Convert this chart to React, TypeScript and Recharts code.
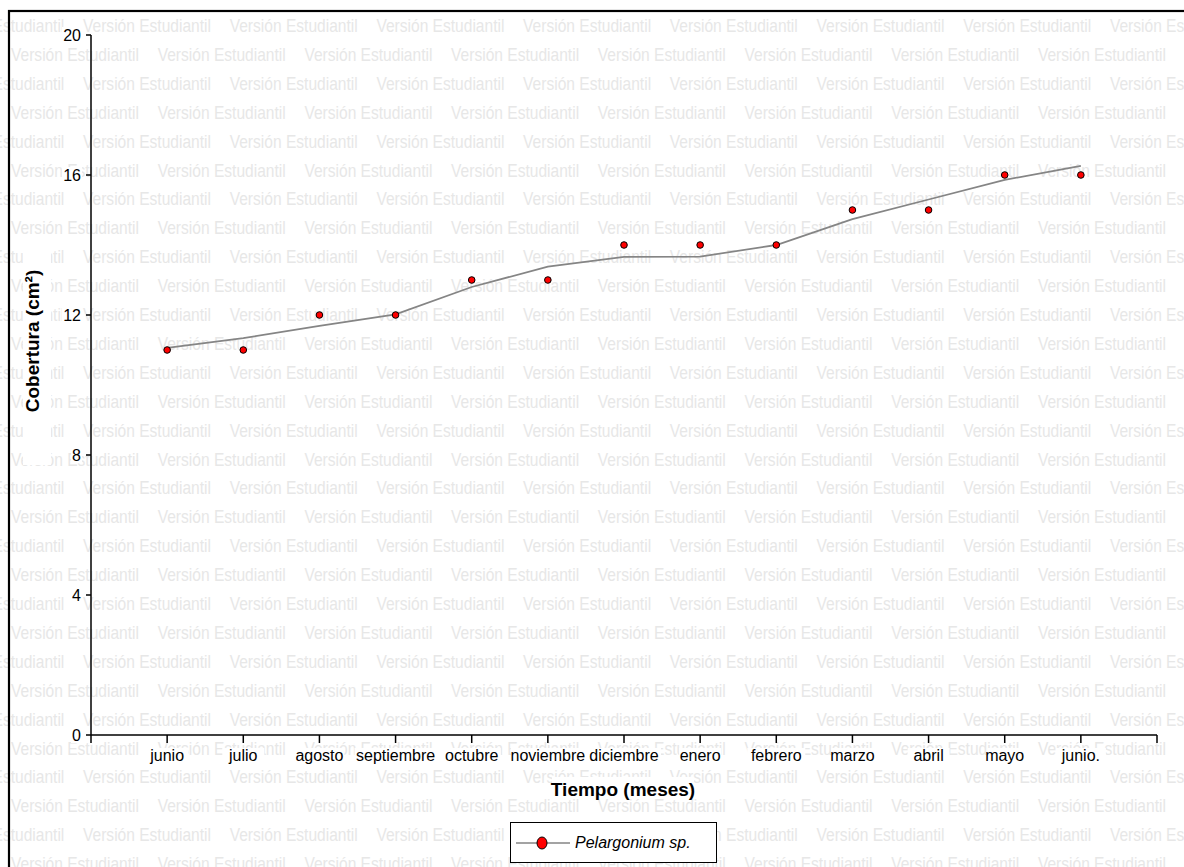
import { ComposedChart, Line, XAxis, YAxis, Legend } from "recharts";

const MONTHS = [
  "junio",
  "julio",
  "agosto",
  "septiembre",
  "octubre",
  "noviembre",
  "diciembre",
  "enero",
  "febrero",
  "marzo",
  "abril",
  "mayo",
  "junio.",
];

// cobertura medida (cm²)
const COBERTURA = [11, 11, 12, 12, 13, 13, 14, 14, 14, 15, 15, 16, 16];

// línea de ajuste
const TENDENCIA = [
  11.06, 11.34, 11.69, 12.02, 12.8, 13.38, 13.66, 13.67, 14.0, 14.74, 15.3,
  15.86, 16.26,
];

const Y_TICKS = [0, 4, 8, 12, 16, 20];
const X_TICKS = Array.from({ length: MONTHS.length + 2 }, (_, i) => i);

const SERIES_NAME = "Pelargonium sp.";
const WATERMARK = "Versión Estudiantil";

const FONT = "'Liberation Sans', Arial, sans-serif";

const data = MONTHS.map((mes, i) => ({
  x: i + 1,
  mes,
  cobertura: COBERTURA[i],
  tendencia: TENDENCIA[i],
}));

function Watermark() {
  const rows = [];
  const step = 146.7;
  for (let k = 0; k < 31; k++) {
    const y = 32 + k * 28.9;
    const start = (k % 2 === 0 ? 83 : 11) - step;
    for (let x = start; x < 1184; x += step) {
      rows.push(
        <text
          key={`${k}-${Math.round(x)}`}
          x={x}
          y={y}
          fontSize={19}
          fontFamily="'Liberation Sans Narrow', 'Arial Narrow', 'Liberation Sans', sans-serif"
          fill="#e7e7e7"
          textLength={128}
          lengthAdjust="spacingAndGlyphs"
        >
          {WATERMARK}
        </text>
      );
    }
  }
  return <g>{rows}</g>;
}

function XTick({ x, y, payload }: any) {
  const label = MONTHS[payload.value - 1];
  if (!label) return null;
  const w = label.length * 8;
  return (
    <g>
      <rect x={x - w / 2 - 1} y={y + 1} width={w + 2} height={17} fill="#fff" />
      <text
        x={x}
        y={y + 14}
        textAnchor="middle"
        fontSize={16}
        fontFamily={FONT}
        fill="#000"
      >
        {label}
      </text>
    </g>
  );
}

function YTick({ x, y, payload }: any) {
  const label = String(payload.value);
  const w = label.length * 9;
  return (
    <g>
      <rect x={x - w - 1} y={y - 8} width={w + 2} height={16} fill="#fff" />
      <text
        x={x}
        y={y + 6}
        textAnchor="end"
        fontSize={16}
        fontFamily={FONT}
        fill="#000"
      >
        {label}
      </text>
    </g>
  );
}

function LegendBox() {
  return (
    <div
      style={{
        width: 207,
        height: 41,
        boxSizing: "border-box",
        border: "1.5px solid #000",
        background: "#fff",
        display: "flex",
        alignItems: "center",
      }}
    >
      <svg width={62} height={38} style={{ flex: "none" }}>
        <line x1={5} y1={19} x2={59} y2={19} stroke="#858585" strokeWidth={1.5} />
        <ellipse cx={31} cy={19} rx={5} ry={6} fill="#ff0000" stroke="#000" strokeWidth={1} />
      </svg>
      <span
        style={{
          fontFamily: FONT,
          fontStyle: "italic",
          fontSize: 16,
          color: "#000",
          marginLeft: 2,
        }}
      >
        {SERIES_NAME}
      </span>
    </div>
  );
}

export default function App() {
  return (
    <div
      style={{
        position: "absolute",
        left: 0,
        top: 0,
        width: 1184,
        height: 867,
        background: "#fff",
        overflow: "hidden",
      }}
    >
      <svg
        width={1184}
        height={867}
        style={{ position: "absolute", left: 0, top: 0 }}
      >
        <Watermark />
        <rect x={23} y={245} width={28} height={220} fill="#fff" />
        <text
          transform="translate(39, 341) rotate(-90)"
          textAnchor="middle"
          fontSize={19}
          fontWeight="bold"
          fontFamily={FONT}
          fill="#000"
        >
          Cobertura (cm²)
        </text>
        <rect x={552} y={777} width={142} height={22} fill="#fff" />
        <text
          x={623}
          y={796}
          textAnchor="middle"
          fontSize={19}
          fontWeight="bold"
          fontFamily={FONT}
          fill="#000"
        >
          Tiempo (meses)
        </text>
        <rect x={9} y={11} width={1200} height={900} fill="none" stroke="#000" strokeWidth={2.2} />
      </svg>
      <div style={{ position: "absolute", left: 0, top: 0 }}>
        <ComposedChart
          width={1184}
          height={867}
          data={data}
          margin={{ top: 35, right: 27, bottom: 102, left: 31 }}
        >
          <XAxis
            type="number"
            dataKey="x"
            domain={[0, 14]}
            ticks={X_TICKS}
            interval={0}
            height={30}
            tickSize={8}
            tickMargin={4}
            axisLine={{ stroke: "#000", strokeWidth: 1.5 }}
            tickLine={{ stroke: "#000", strokeWidth: 1.5 }}
            tick={<XTick />}
          />
          <YAxis
            type="number"
            domain={[0, 20]}
            ticks={Y_TICKS}
            interval={0}
            width={60}
            tickSize={5}
            tickMargin={5}
            axisLine={{ stroke: "#000", strokeWidth: 1.5 }}
            tickLine={{ stroke: "#000", strokeWidth: 1.5 }}
            tick={<YTick />}
          />
          <Legend
            layout="horizontal"
            verticalAlign="middle"
            align="center"
            content={() => <LegendBox />}
            wrapperStyle={{ left: 510, top: 822, width: 207, height: 41 }}
          />
          <Line
            type="linear"
            dataKey="tendencia"
            stroke="#858585"
            strokeWidth={1.8}
            dot={false}
            activeDot={false}
            legendType="none"
            isAnimationActive={false}
          />
          <Line
            type="linear"
            dataKey="cobertura"
            name={SERIES_NAME}
            stroke="none"
            dot={{ r: 3.3, fill: "#ff0000", stroke: "#000", strokeWidth: 1 }}
            activeDot={false}
            isAnimationActive={false}
          />
        </ComposedChart>
      </div>
    </div>
  );
}
